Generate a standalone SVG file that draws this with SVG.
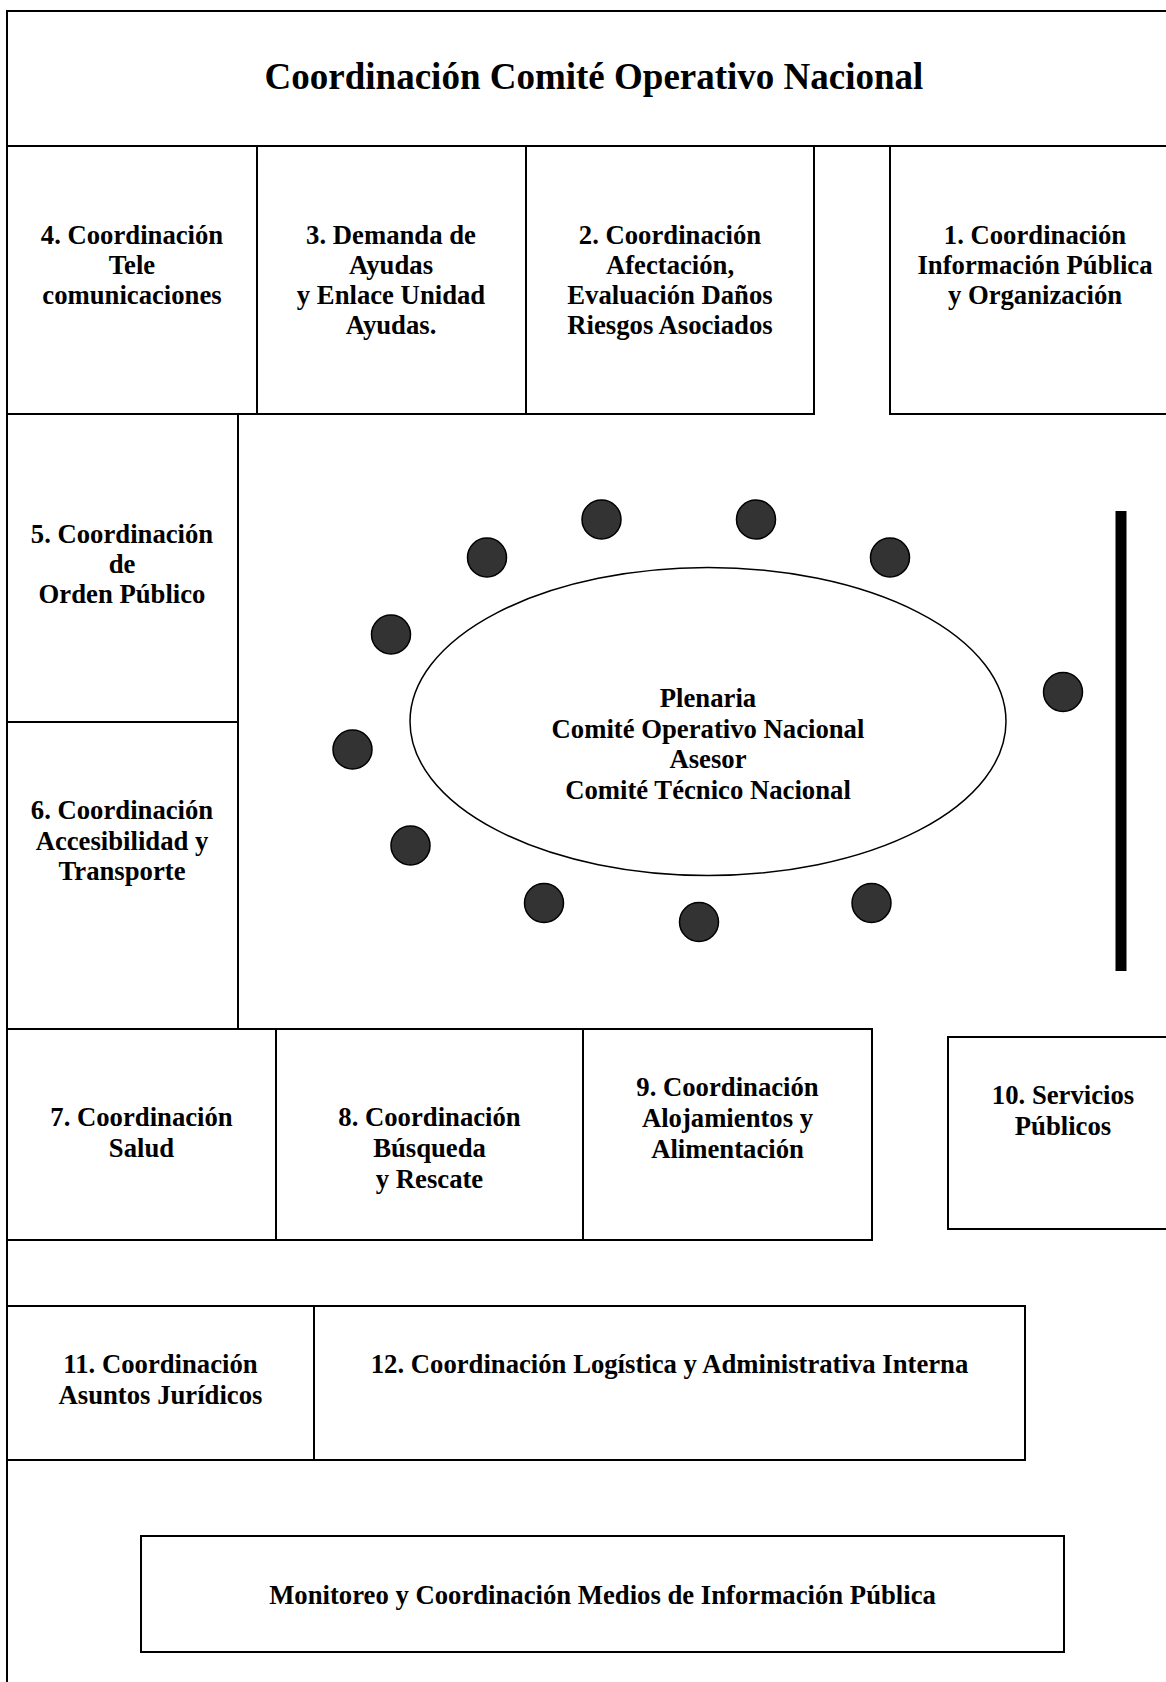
<svg xmlns="http://www.w3.org/2000/svg" width="1166" height="1682" viewBox="0 0 1166 1682">
<style>
.bx{fill:none;stroke:#000;stroke-width:2}
.t{font-family:"Liberation Serif","Times New Roman",serif;font-weight:bold;font-size:26.7px;text-anchor:middle;fill:#000}
.title{font-size:37px}
.seat{fill:#333;stroke:#000;stroke-width:1.5}
</style>
<rect width="1166" height="1682" fill="#fff"/>
<g id="frame"><rect class="bx" x="7" y="11" width="1180" height="1700"/></g>
<g id="title"><rect class="bx" x="7" y="11" width="1180" height="135"/>
<text class="t title" x="594" y="89">Coordinación Comité Operativo Nacional</text></g>
<g id="n4"><rect class="bx" x="7" y="146" width="250" height="268"/>
<text class="t" x="132" y="244">4. Coordinación</text><text class="t" x="132" y="274">Tele</text><text class="t" x="132" y="304">comunicaciones</text></g>
<g id="n3"><rect class="bx" x="257" y="146" width="269" height="268"/>
<text class="t" x="391" y="244">3. Demanda de</text><text class="t" x="391" y="274">Ayudas</text><text class="t" x="391" y="304">y Enlace Unidad</text><text class="t" x="391" y="334">Ayudas.</text></g>
<g id="n2"><rect class="bx" x="526" y="146" width="288" height="268"/>
<text class="t" x="670" y="244">2. Coordinación</text><text class="t" x="670" y="274">Afectación,</text><text class="t" x="670" y="304">Evaluación Daños</text><text class="t" x="670" y="334">Riesgos Asociados</text></g>
<g id="n1"><rect class="bx" x="890" y="146" width="290" height="268"/>
<text class="t" x="1035" y="244">1. Coordinación</text><text class="t" x="1035" y="274">Información Pública</text><text class="t" x="1035" y="304">y Organización</text></g>
<g id="n5"><rect class="bx" x="7" y="414" width="231" height="308"/>
<text class="t" x="122" y="543">5. Coordinación</text><text class="t" x="122" y="573">de</text><text class="t" x="122" y="603">Orden Público</text></g>
<g id="n6"><rect class="bx" x="7" y="722" width="231" height="307"/>
<text class="t" x="122" y="819">6. Coordinación</text><text class="t" x="122" y="850">Accesibilidad y</text><text class="t" x="122" y="880">Transporte</text></g>
<g id="plenaria"><ellipse cx="708" cy="721.5" rx="298" ry="154" fill="none" stroke="#000" stroke-width="1.5"/>
<text class="t" x="708" y="707">Plenaria</text><text class="t" x="708" y="738">Comité Operativo Nacional</text><text class="t" x="708" y="768">Asesor</text><text class="t" x="708" y="799">Comité Técnico Nacional</text></g>
<g id="seats">
<circle class="seat" cx="601.5" cy="519.5" r="19.5"/>
<circle class="seat" cx="756" cy="519.5" r="19.5"/>
<circle class="seat" cx="890" cy="557.5" r="19.5"/>
<circle class="seat" cx="487" cy="557.5" r="19.5"/>
<circle class="seat" cx="391" cy="634.5" r="19.5"/>
<circle class="seat" cx="1063" cy="692" r="19.5"/>
<circle class="seat" cx="352.5" cy="749.5" r="19.5"/>
<circle class="seat" cx="410.5" cy="845.5" r="19.5"/>
<circle class="seat" cx="544" cy="903" r="19.5"/>
<circle class="seat" cx="699" cy="922" r="19.5"/>
<circle class="seat" cx="871.5" cy="903" r="19.5"/>
</g>
<g id="bar"><line x1="1121" y1="511" x2="1121" y2="971" stroke="#000" stroke-width="11"/></g>
<g id="n7"><rect class="bx" x="7" y="1029" width="269" height="211"/>
<text class="t" x="141.5" y="1126">7. Coordinación</text><text class="t" x="141.5" y="1157">Salud</text></g>
<g id="n8"><rect class="bx" x="276" y="1029" width="307" height="211"/>
<text class="t" x="429.5" y="1126">8. Coordinación</text><text class="t" x="429.5" y="1157">Búsqueda</text><text class="t" x="429.5" y="1188">y Rescate</text></g>
<g id="n9"><rect class="bx" x="583" y="1029" width="289" height="211"/>
<text class="t" x="727.5" y="1096">9. Coordinación</text><text class="t" x="727.5" y="1127">Alojamientos y</text><text class="t" x="727.5" y="1158">Alimentación</text></g>
<g id="n10"><rect class="bx" x="948" y="1037" width="232" height="192"/>
<text class="t" x="1063" y="1104">10. Servicios</text><text class="t" x="1063" y="1135">Públicos</text></g>
<g id="n11"><rect class="bx" x="7" y="1306" width="307" height="154"/>
<text class="t" x="160.5" y="1373">11. Coordinación</text><text class="t" x="160.5" y="1404">Asuntos Jurídicos</text></g>
<g id="n12"><rect class="bx" x="314" y="1306" width="711" height="154"/>
<text class="t" x="669.5" y="1373">12. Coordinación Logística y Administrativa Interna</text></g>
<g id="monitoreo"><rect class="bx" x="141" y="1536" width="923" height="116"/>
<text class="t" x="602.5" y="1604">Monitoreo y Coordinación Medios de Información Pública</text></g>
<g id="connectors"></g>
</svg>
